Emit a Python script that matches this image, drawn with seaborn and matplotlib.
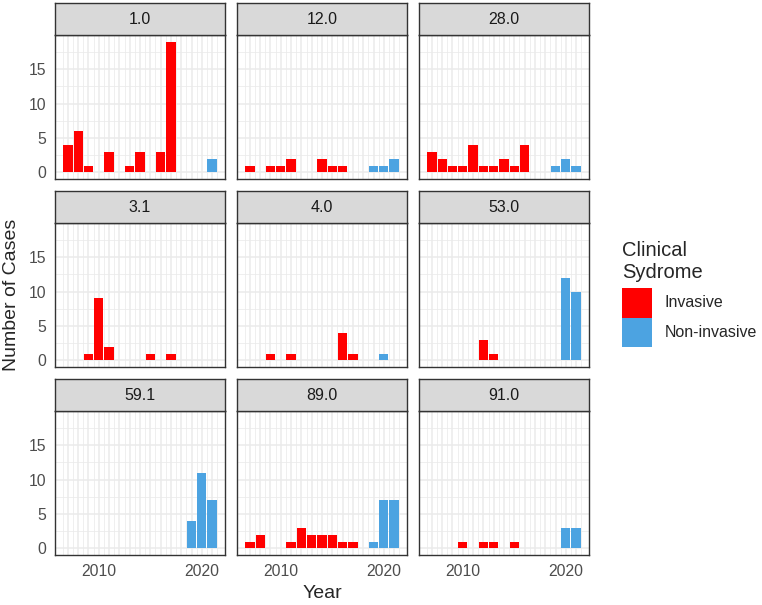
import matplotlib.pyplot as plt
import pandas as pd
import seaborn as sns
from matplotlib.patches import Patch

# years on the x axis (one bar slot per year)
years = [2007, 2008, 2009, 2010, 2011, 2012, 2013, 2014, 2015,
         2016, 2017, 2018, 2019, 2020, 2021]
serotypes = ["1.0", "12.0", "28.0", "3.1", "4.0", "53.0", "59.1", "89.0", "91.0"]
syndromes = ["Invasive", "Non-invasive"]

# cases per year, 2007 .. 2021
inv_1_0 = [4, 6, 1, 0, 3, 0, 1, 3, 0, 3, 19, 0, 0, 0, 0]
non_1_0 = [0, 0, 0, 0, 0, 0, 0, 0, 0, 0, 0, 0, 0, 0, 2]
inv_12_0 = [1, 0, 1, 1, 2, 0, 0, 2, 1, 1, 0, 0, 0, 0, 0]
non_12_0 = [0, 0, 0, 0, 0, 0, 0, 0, 0, 0, 0, 0, 1, 1, 2]
inv_28_0 = [3, 2, 1, 1, 4, 1, 1, 2, 1, 4, 0, 0, 0, 0, 0]
non_28_0 = [0, 0, 0, 0, 0, 0, 0, 0, 0, 0, 0, 0, 1, 2, 1]
inv_3_1 = [0, 0, 1, 9, 2, 0, 0, 0, 1, 0, 1, 0, 0, 0, 0]
non_3_1 = [0, 0, 0, 0, 0, 0, 0, 0, 0, 0, 0, 0, 0, 0, 0]
inv_4_0 = [0, 0, 1, 0, 1, 0, 0, 0, 0, 4, 1, 0, 0, 0, 0]
non_4_0 = [0, 0, 0, 0, 0, 0, 0, 0, 0, 0, 0, 0, 0, 1, 0]
inv_53_0 = [0, 0, 0, 0, 0, 3, 1, 0, 0, 0, 0, 0, 0, 0, 0]
non_53_0 = [0, 0, 0, 0, 0, 0, 0, 0, 0, 0, 0, 0, 0, 12, 10]
inv_59_1 = [0, 0, 0, 0, 0, 0, 0, 0, 0, 0, 0, 0, 0, 0, 0]
non_59_1 = [0, 0, 0, 0, 0, 0, 0, 0, 0, 0, 0, 0, 4, 11, 7]
inv_89_0 = [1, 2, 0, 0, 1, 3, 2, 2, 2, 1, 1, 0, 0, 0, 0]
non_89_0 = [0, 0, 0, 0, 0, 0, 0, 0, 0, 0, 0, 0, 1, 7, 7]
inv_91_0 = [0, 0, 0, 1, 0, 1, 1, 0, 1, 0, 0, 0, 0, 0, 0]
non_91_0 = [0, 0, 0, 0, 0, 0, 0, 0, 0, 0, 0, 0, 0, 3, 3]

invasive = [inv_1_0, inv_12_0, inv_28_0, inv_3_1, inv_4_0,
            inv_53_0, inv_59_1, inv_89_0, inv_91_0]
noninvasive = [non_1_0, non_12_0, non_28_0, non_3_1, non_4_0,
               non_53_0, non_59_1, non_89_0, non_91_0]

# long format, only years with cases
rows = []
for sero, inv, non in zip(serotypes, invasive, noninvasive):
    for yr, a, b in zip(years, inv, non):
        if a > 0:
            rows.append((sero, yr, "Invasive", a))
        if b > 0:
            rows.append((sero, yr, "Non-invasive", b))
df = pd.DataFrame(rows, columns=["Serotype", "Year", "Syndrome", "Cases"])

palette = {"Invasive": "#FF0000", "Non-invasive": "#4CA3E1"}

sns.set_style("white")
plt.rcParams["font.family"] = ["Liberation Sans", "DejaVu Sans"]

W, H = 762, 605
fig = plt.figure(figsize=(W / 100, H / 100), dpi=100)

col_left = [55, 237, 419]
strip_top = [3, 191, 379]
panel_w, panel_h, strip_h = 170, 144, 32
border = "#333333"

for i, sero in enumerate(serotypes):
    r, c = divmod(i, 3)
    x0 = col_left[c] / W
    ax = fig.add_axes([x0, 1 - (strip_top[r] + strip_h + panel_h) / H, panel_w / W, panel_h / H])
    sax = fig.add_axes([x0, 1 - (strip_top[r] + strip_h) / H, panel_w / W, strip_h / H])

    sub = df[df["Serotype"] == sero]
    sns.barplot(
        data=sub, x="Year", y="Cases", hue="Syndrome", hue_order=syndromes,
        palette=palette, saturation=1, native_scale=True, width=0.9,
        dodge=False, errorbar=None, legend=False, linewidth=0, ax=ax,
    )

    ax.set_xlim(2005.75, 2022.25)
    ax.set_ylim(-0.95, 19.95)
    ax.set_xticks(years)
    ax.set_xticks([y + 0.5 for y in [2006] + years], minor=True)
    ax.set_xticklabels([str(y) if y in (2010, 2020) else "" for y in years])
    ax.set_yticks([0, 5, 10, 15])
    ax.set_yticks([2.5, 7.5, 12.5, 17.5], minor=True)
    ax.set_yticklabels(["0", "5", "10", "15"])
    ax.set_xlabel("")
    ax.set_ylabel("")

    ax.set_facecolor("white")
    ax.grid(True, which="major", color="#EBEBEB", lw=1.1)
    ax.grid(True, which="minor", color="#EBEBEB", lw=0.55)
    ax.set_axisbelow(True)
    for s in ax.spines.values():
        s.set_color(border)
        s.set_linewidth(1.0)

    ax.tick_params(which="major", length=4, width=1.1, color=border,
                   labelsize=11.3, labelcolor="#4D4D4D", pad=2.5)
    ax.tick_params(which="minor", length=0)
    if c != 0:
        ax.tick_params(axis="y", which="both", length=0, labelleft=False)
    if r != 2:
        ax.tick_params(axis="x", which="both", length=0, labelbottom=False)

    # facet strip
    sax.set_facecolor("#D9D9D9")
    sax.set_xticks([])
    sax.set_yticks([])
    for s in sax.spines.values():
        s.set_color(border)
        s.set_linewidth(1.0)
    sax.text(0.5, 0.5, sero, ha="center", va="center", fontsize=11.5,
             color="#1A1A1A", transform=sax.transAxes)

fig.text(322 / W, 1 - 593 / H, "Year", ha="center", va="center", fontsize=14)
fig.text(12 / W, 1 - 295 / H, "Number of Cases", ha="center", va="center",
         rotation=90, fontsize=14)

handles = [Patch(facecolor=palette[s], edgecolor="none") for s in syndromes]
leg = fig.legend(
    handles, syndromes, title="Clinical\nSydrome", loc="upper left",
    bbox_to_anchor=(614 / W, 1 - 233 / H), frameon=False, borderpad=0,
    fontsize=11.5, title_fontsize=14.5, handlelength=1.88, handleheight=2.51,
    labelspacing=0, handletextpad=0.8, alignment="left",
)
leg._legend_box.sep = 4

fig.savefig("out.png", dpi=100)
